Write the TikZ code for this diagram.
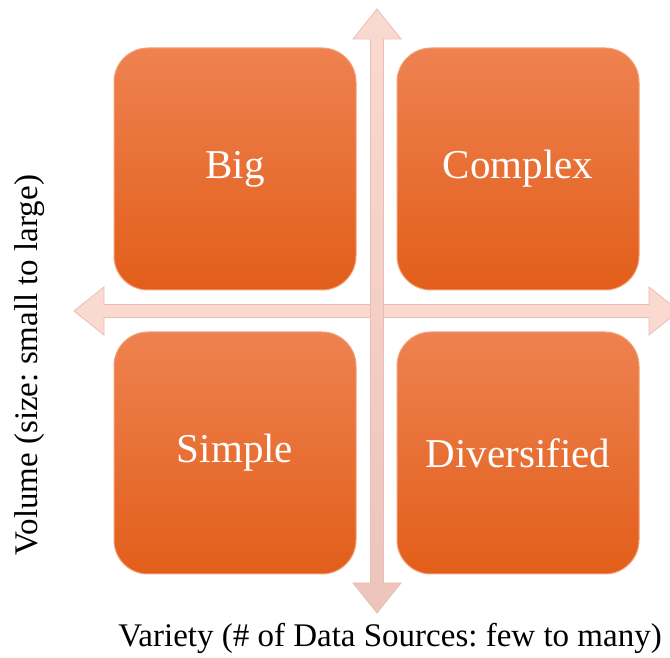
\documentclass[tikz,border=0pt]{standalone}
\usepackage{fontspec}
\setmainfont{Liberation Serif}
\frenchspacing
\begin{document}
\begin{tikzpicture}[x=1pt,y=1pt,
  quad/.style={minimum width=242pt, minimum height=242pt, rounded corners=34pt,
    shading=axis, top color=quadTop, middle color=quadMid, bottom color=quadBot,
    draw=quadRim, line width=1pt, text=white, font=\fontsize{41}{45}\selectfont,
    inner sep=0pt},
  axisarrow/.style={draw=axisEdge, line width=0.8pt, line join=miter},
  axislabel/.style={font=\fontsize{33}{37}\selectfont, text=black, inner sep=0pt}]
\definecolor{quadTop}{RGB}{238,130,80}
\definecolor{quadMid}{RGB}{242,113,42}
\definecolor{quadBot}{RGB}{226,94,26}
\definecolor{quadRim}{RGB}{244,160,120}
\definecolor{axisFill}{RGB}{250,218,208}
\definecolor{axisDark}{RGB}{236,196,186}
\definecolor{axisEdge}{RGB}{232,190,178}

\useasboundingbox (0,0) rectangle (670,658);
\clip (0,0) rectangle (670,658);

% axis end points
\coordinate (vtop) at (377,649);
\coordinate (vbot) at (377,45);
\coordinate (hleft) at (74,347);
\coordinate (hright) at (679,347);

% horizontal axis (variety)
\path[axisarrow, fill=axisFill]
  (hleft) -- ([xshift=30pt,yshift=24pt]hleft) -- ([xshift=30pt,yshift=6.5pt]hleft)
  -- ([xshift=-30pt,yshift=6.5pt]hright) -- ([xshift=-30pt,yshift=24pt]hright)
  -- (hright) -- ([xshift=-30pt,yshift=-24pt]hright) -- ([xshift=-30pt,yshift=-6.5pt]hright)
  -- ([xshift=30pt,yshift=-6.5pt]hleft) -- ([xshift=30pt,yshift=-24pt]hleft) -- cycle;

% vertical axis (volume)
\path[axisarrow, top color=axisFill, bottom color=axisDark]
  (vtop) -- ([xshift=24pt,yshift=-30pt]vtop) -- ([xshift=6.5pt,yshift=-30pt]vtop)
  -- ([xshift=6.5pt,yshift=30pt]vbot) -- ([xshift=24pt,yshift=30pt]vbot)
  -- (vbot) -- ([xshift=-24pt,yshift=30pt]vbot) -- ([xshift=-6.5pt,yshift=30pt]vbot)
  -- ([xshift=-6.5pt,yshift=-30pt]vtop) -- ([xshift=-24pt,yshift=-30pt]vtop) -- cycle;

% quadrants
\node[quad] (big) at (235,489) {Big};
\node[quad] (complex) at (518,489) {Complex};
\node[quad] (simple) at (235,205) {Simple};
\node[quad] (diversified) at (518,205) {Diversified};

% axis titles
\node[axislabel, rotate=90] (volume) at (30,293) {Volume (size: small to large)};
\node[axislabel] (variety) at (390,20) {Variety (\# of Data Sources: few to many)};
\end{tikzpicture}
\end{document}
